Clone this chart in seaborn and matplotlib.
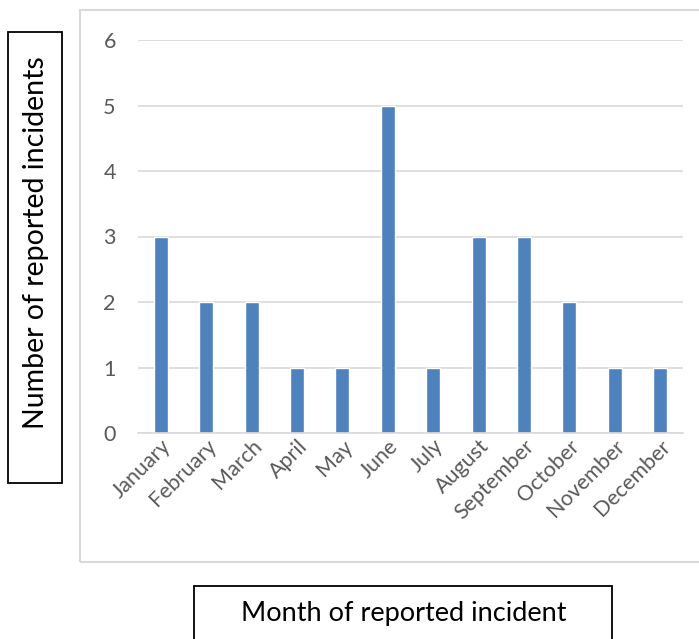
import matplotlib.pyplot as plt
import pandas as pd
import seaborn as sns
from matplotlib.patches import Rectangle

# chart data
months = ["January", "February", "March", "April", "May", "June", "July",
          "August", "September", "October", "November", "December"]
incidents = [3, 2, 2, 1, 1, 5, 1, 3, 3, 2, 1, 1]
y_ticks = [0, 1, 2, 3, 4, 5, 6]

df = pd.DataFrame({"Month": months, "Incidents": incidents})

sns.set_theme(style="white")
plt.rcParams["font.family"] = ["Lato", "DejaVu Sans"]

W, H = 699, 639
fig = plt.figure(figsize=(W / 100, H / 100), dpi=100)


def px_rect(x0, y0, x1, y1, color, lw):
    # rectangle given in pixel coords (origin top-left)
    fig.patches.append(Rectangle((x0 / W, 1 - y1 / H), (x1 - x0) / W, (y1 - y0) / H,
                                 transform=fig.transFigure, fill=False,
                                 edgecolor=color, linewidth=lw))


# light grey chart-area border (Excel style)
px_rect(80, 10, W + 20, 562, "#d9d9d9", 1.5)

ax = fig.add_axes([138 / W, 1 - 433 / H, (683 - 138) / W, (433 - 40) / H])
sns.barplot(data=df, x="Month", y="Incidents", color="#4f81bd", width=0.31,
            saturation=1, ax=ax)

ax.set_ylim(0, 6)
ax.set_xlim(-0.5, len(months) - 0.5)
ax.set_yticks(y_ticks)
ax.yaxis.grid(True, color="#d9d9d9", linewidth=1.2)
ax.set_axisbelow(True)
for s in ["top", "right", "left"]:
    ax.spines[s].set_visible(False)
ax.spines["bottom"].set_color("#d9d9d9")
ax.spines["bottom"].set_linewidth(1.2)

ax.tick_params(axis="y", length=0, pad=16, labelsize=15.5, labelcolor="#595959")
ax.tick_params(axis="x", length=0, pad=2, labelsize=15.5, labelcolor="#595959")
plt.setp(ax.get_xticklabels(), rotation=45, ha="right", rotation_mode="anchor")
ax.set_xlabel("")
ax.set_ylabel("")

# axis titles in black boxes
px_rect(8, 32, 62, 483, "black", 1.3)
fig.text(36 / W, 1 - 243 / H, "Number of reported incidents", rotation=90,
         ha="center", va="center", fontsize=20.5, color="black")
px_rect(194, 586, 612, H + 5, "black", 1.3)
fig.text(404 / W, 1 - 614 / H, "Month of reported incident",
         ha="center", va="center", fontsize=19.5, color="black")

fig.savefig("out.png", dpi=100)
